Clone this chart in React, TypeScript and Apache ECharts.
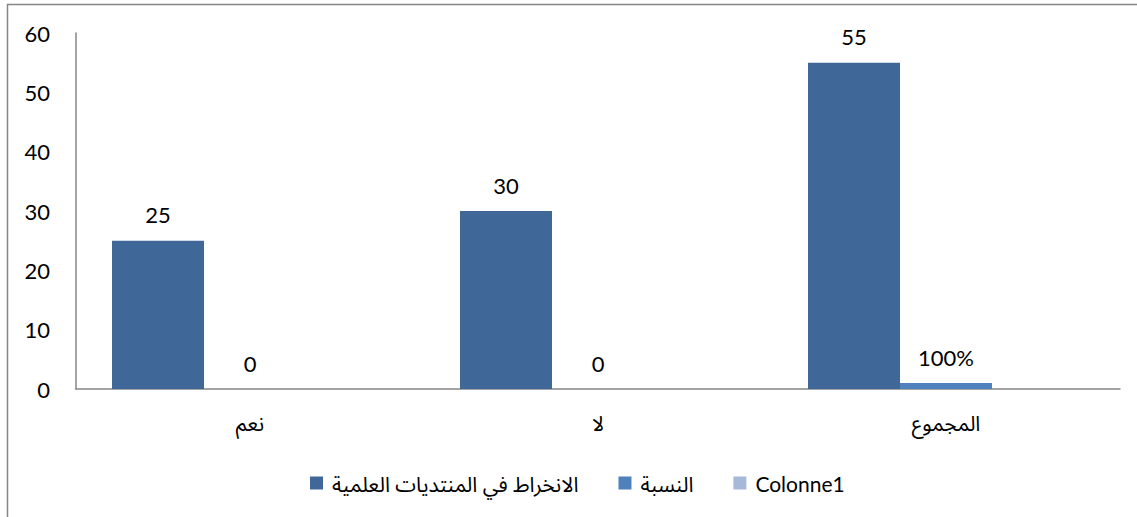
import React, { useEffect, useRef } from "react";
import * as echarts from "echarts";

const categories = ["نعم", "لا", "المجموع"];
const seriesNames = ["الانخراط في المنتديات العلمية", "النسبة", "Colonne1"];
const participation = [25, 30, 55];
const ratio = [0, 0, 1];
const ratioLabels = ["0", "0", "100%"];
const colonne1: (number | null)[] = [null, null, null];
const yTicks = { min: 0, max: 60, interval: 10 };

export default function App() {
  const ref = useRef<HTMLDivElement>(null);
  useEffect(() => {
    if (!ref.current) return;
    const chart = echarts.init(ref.current, null, { renderer: "svg" });
    const numFont = "Lato, 'Open Sans', sans-serif";
    const labelStyle = {
      show: true,
      position: "top" as const,
      distance: 15,
      color: "#000",
      fontSize: 22,
      fontFamily: numFont,
    };
    chart.setOption({
      animation: false,
      backgroundColor: "#fff",
      graphic: [
        {
          type: "rect",
          shape: { x: 7.5, y: 4.5, width: 1140, height: 530 },
          style: { fill: "none", stroke: "#868686", lineWidth: 1.5 },
          silent: true,
        },
      ],
      grid: { left: 76, right: 17, top: 33, bottom: 128, containLabel: false },
      legend: {
        data: seriesNames,
        left: 305,
        top: 467,
        itemWidth: 13,
        itemHeight: 13,
        itemGap: 40,
        icon: "rect",
        textStyle: {
          fontSize: 21,
          lineHeight: 22,
          color: "#000",
          fontFamily: "Lato, 'Noto Sans Arabic', 'DejaVu Sans', sans-serif",
          padding: [0, 0, 0, 4],
        },
      },
      xAxis: {
        type: "category",
        data: categories,
        axisLine: { lineStyle: { color: "#868686", width: 1.5 } },
        axisTick: { show: false },
        axisLabel: {
          color: "#000",
          fontSize: 21,
          margin: 24,
          fontFamily: "'Noto Sans Arabic', 'DejaVu Sans', sans-serif",
        },
      },
      yAxis: {
        type: "value",
        min: yTicks.min,
        max: yTicks.max,
        interval: yTicks.interval,
        axisLine: { show: true, lineStyle: { color: "#868686", width: 1.5 } },
        axisTick: { show: false },
        splitLine: { show: false },
        axisLabel: {
          color: "#000",
          fontSize: 22,
          margin: 26,
          fontFamily: numFont,
        },
      },
      series: [
        {
          name: seriesNames[0],
          type: "bar",
          data: participation,
          barWidth: 92,
          barGap: "0%",
          itemStyle: { color: "#3F6899" },
          label: labelStyle,
        },
        {
          name: seriesNames[1],
          type: "bar",
          data: ratio,
          barWidth: 92,
          barGap: "0%",
          itemStyle: { color: "#4F81BD" },
          label: {
            ...labelStyle,
            formatter: (p: any) => ratioLabels[p.dataIndex],
          },
        },
        {
          name: seriesNames[2],
          type: "bar",
          data: colonne1,
          barWidth: 92,
          barGap: "0%",
          itemStyle: { color: "#A7B9D9" },
        },
      ],
    });
    return () => chart.dispose();
  }, []);
  return (
    <div
      ref={ref}
      style={{ position: "fixed", left: 0, top: 0, width: 1137, height: 517 }}
    />
  );
}
